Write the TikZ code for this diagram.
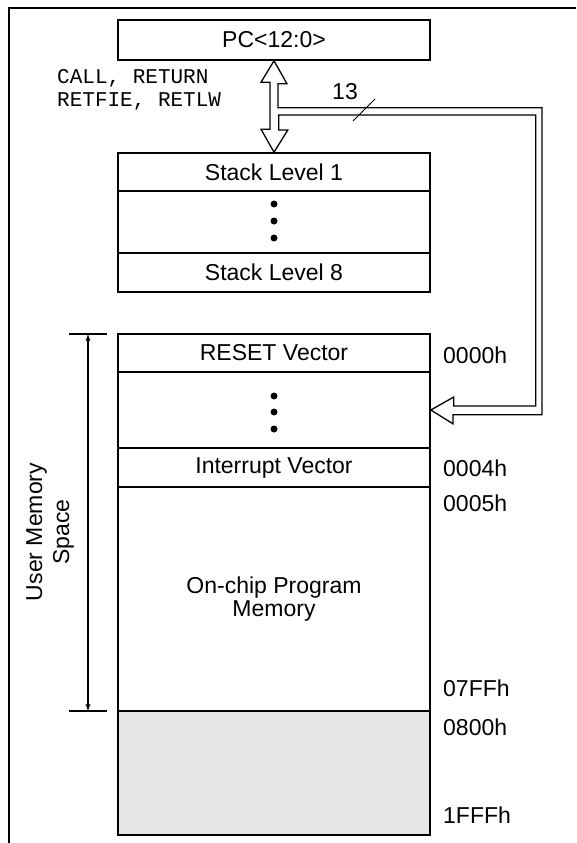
\documentclass[tikz,border=0pt]{standalone}
\usepackage{fontspec}
\setmainfont{Liberation Sans}
\setmonofont{Liberation Mono}
\usetikzlibrary{calc}
\definecolor{grisclair}{HTML}{E5E5E5}
\begin{document}
\begin{tikzpicture}[x=1pt,y=-1pt]
% Styles (MODIFIABLES)
\tikzstyle{case}=[draw,line width=1.6pt,minimum width=312pt,inner sep=0pt,align=center,font=\fontsize{23}{27}\selectfont]
\tikzstyle{adresse}=[anchor=west,inner sep=0pt,font=\fontsize{23}{27}\selectfont]
\tikzstyle{instr}=[anchor=west,inner sep=0pt,font=\ttfamily\fontsize{21}{24}\selectfont]
\tikzstyle{point}=[fill=black,circle,inner sep=0pt,minimum size=7pt]
\tikzstyle{bus}=[draw,fill=white,line width=1.3pt,line join=miter]
\tikzstyle{fleche}=[<->,>=latex,line width=1.3pt]
% Dimensions (MODIFIABLES)
\def\Centre{274}
\def\Adresse{443}
% Cadre
\useasboundingbox (0,0) rectangle (576,843);
\draw[line width=2.6pt] (9,843) -- (9,8) -- (576,8);
% Noeuds : PC et pile
\node[case,minimum height=40pt] (PC) at (\Centre,40) {PC<12:0>};
\node[case,minimum height=38pt] (S1) at (\Centre,172) {Stack Level 1};
\node[case,minimum height=62pt] (Sd) at (\Centre,222) {};
\node[case,minimum height=39pt] (S8) at (\Centre,272.5) {Stack Level 8};
\node[point] (Sd1) at (\Centre,204) {};
\node[point] (Sd2) at (\Centre,221) {};
\node[point] (Sd3) at (\Centre,238) {};
% Noeuds : memoire programme
\node[case,minimum height=38pt] (Mr) at (\Centre,353) {RESET Vector};
\node[case,minimum height=76pt] (Md) at (\Centre,410) {};
\node[case,minimum height=39pt] (Mi) at (\Centre,467.5) {Interrupt Vector};
\node[case,minimum height=224pt,font=\fontsize{23}{23}\selectfont] (Mp) at (\Centre,599) {On-chip Program\\Memory};
\node[case,minimum height=124pt,fill=grisclair] (Mg) at (\Centre,773) {};
\node[point] (Md1) at (\Centre,396) {};
\node[point] (Md2) at (\Centre,412) {};
\node[point] (Md3) at (\Centre,429) {};
% Adresses
\node[adresse] (A0000) at (\Adresse,355) {0000h};
\node[adresse] (A0004) at (\Adresse,468) {0004h};
\node[adresse] (A0005) at (\Adresse,503) {0005h};
\node[adresse] (A07FF) at (\Adresse,688) {07FFh};
\node[adresse] (A0800) at (\Adresse,727) {0800h};
\node[adresse] (A1FFF) at (\Adresse,815) {1FFFh};
% Instructions
\node[instr] (call) at (57,78) {CALL, RETURN};
\node[instr] (retfie) at (57,101) {RETFIE, RETLW};
% Bus 13 bits
\draw[bus] (PC.south) -- ++(13,23) -- ++(-9,0) -- ++(0,24) -- ++(264,0) -- ++(0,307)
  -- ++(-89,0) -- ++(0,9) -- (Md.east) -- ++(23,-13) -- ++(0,9) -- ++(82,0)
  -- ++(0,-291) -- ++(-257,0) -- ++(0,15) -- ++(9,0) -- (S1.north)
  -- ++(-13,-23) -- ++(9,0) -- ++(0,-47) -- ++(-9,0) -- cycle;
\coordinate (barreA) at (353,121);
\coordinate (barreB) at (375,99);
\draw[line width=1pt] (barreA) -- (barreB);
\node[font=\fontsize{23}{27}\selectfont,inner sep=0pt] (treize) at (345,92) {13};
% Espace memoire utilisateur
\coordinate (UMhaut) at (88,334);
\coordinate (UMbas) at (88,711);
\draw[line width=1.3pt] ($(UMhaut)+(-19,0)$) -- ($(UMhaut)+(19,0)$);
\draw[line width=1.3pt] ($(UMbas)+(-19,0)$) -- ($(UMbas)+(19,0)$);
\draw[fleche] (UMhaut) -- (UMbas);
\node[rotate=90,align=center,font=\fontsize{23}{27}\selectfont] (UM) at (50,532) {User Memory\\Space};
\end{tikzpicture}
\end{document}
